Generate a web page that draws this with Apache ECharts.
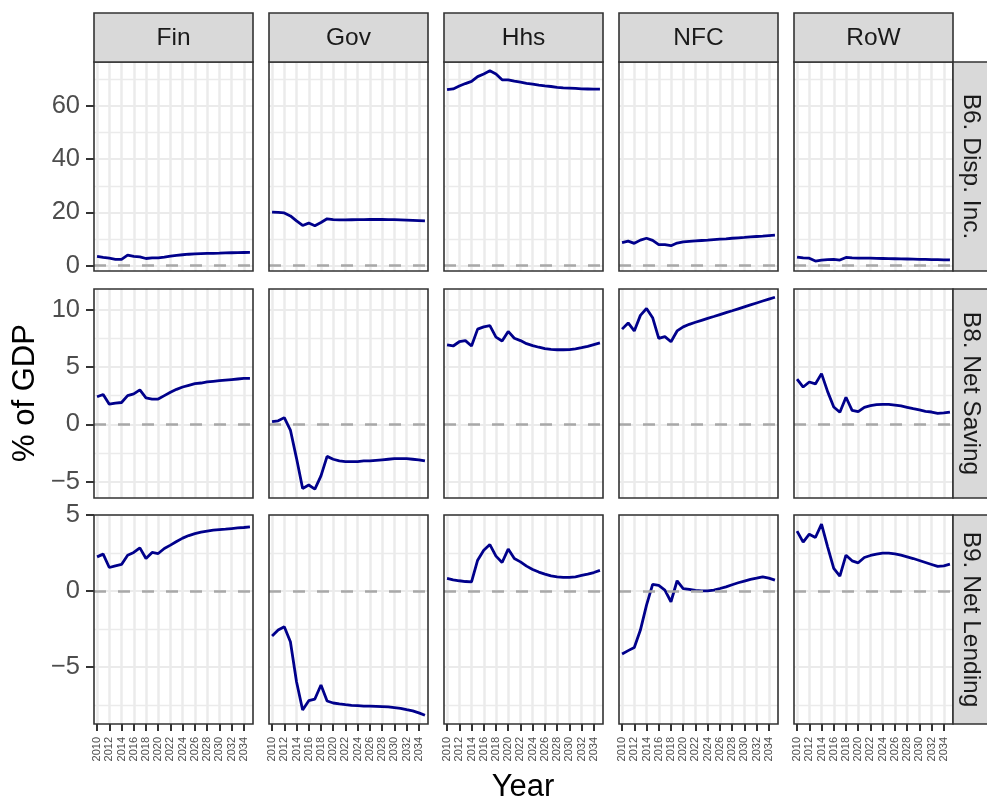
<!DOCTYPE html>
<html>
<head>
<meta charset="utf-8">
<script src="https://cdn.jsdelivr.net/npm/echarts@6/dist/echarts.min.js"></script>
<style>
  html, body { margin: 0; padding: 0; background: #fff; }
  #chart { width: 987px; height: 801px; }
</style>
</head>
<body>
<div id="chart"></div>
<script>
// años y etiquetas
const years = [2010, 2011, 2012, 2013, 2014, 2015, 2016, 2017, 2018, 2019, 2020, 2021, 2022,
  2023, 2024, 2025, 2026, 2027, 2028, 2029, 2030, 2031, 2032, 2033, 2034, 2035];
const xTicks = [2010, 2012, 2014, 2016, 2018, 2020, 2022, 2024, 2026, 2028, 2030, 2032, 2034];
const sectors = ['Fin', 'Gov', 'Hhs', 'NFC', 'RoW'];
const measures = ['B6. Disp. Inc.', 'B8. Net Saving', 'B9. Net Lending'];

// B6. Disp. Inc.
const finDisp = [3.5, 3.1, 2.8, 2.4, 2.4, 4.0, 3.5, 3.3, 2.7, 2.9, 2.9, 3.2, 3.6, 3.9, 4.1, 4.3, 4.4, 4.5, 4.6, 4.65, 4.7, 4.8, 4.85, 4.9, 4.95, 5.0];
const govDisp = [20.1, 20.0, 19.8, 18.7, 16.8, 15.1, 16.0, 15.0, 16.2, 17.6, 17.3, 17.2, 17.2, 17.25, 17.3, 17.3, 17.35, 17.35, 17.35, 17.3, 17.3, 17.2, 17.1, 17.0, 16.9, 16.8];
const hhsDisp = [66.1, 66.4, 67.5, 68.4, 69.2, 71.0, 72.0, 73.2, 72.0, 69.8, 69.8, 69.3, 68.9, 68.5, 68.2, 67.8, 67.5, 67.3, 67.0, 66.8, 66.7, 66.6, 66.4, 66.35, 66.3, 66.3];
const nfcDisp = [8.7, 9.2, 8.4, 9.6, 10.3, 9.5, 7.9, 7.9, 7.5, 8.5, 8.9, 9.1, 9.3, 9.45, 9.6, 9.8, 9.95, 10.1, 10.3, 10.45, 10.6, 10.8, 10.95, 11.1, 11.3, 11.45];
const rowDisp = [3.25, 2.9, 2.8, 1.75, 2.1, 2.25, 2.4, 2.1, 3.1, 2.9, 2.85, 2.8, 2.8, 2.75, 2.7, 2.65, 2.6, 2.55, 2.5, 2.45, 2.4, 2.35, 2.3, 2.25, 2.2, 2.15];

// B8. Net Saving
const finSav = [2.4, 2.6, 1.75, 1.85, 1.9, 2.5, 2.65, 3.0, 2.3, 2.2, 2.2, 2.5, 2.8, 3.05, 3.25, 3.4, 3.55, 3.6, 3.7, 3.75, 3.8, 3.85, 3.9, 3.95, 4.0, 4.0];
const govSav = [0.23, 0.3, 0.58, -0.5, -2.97, -5.6, -5.3, -5.65, -4.5, -2.8, -3.05, -3.2, -3.25, -3.25, -3.25, -3.2, -3.2, -3.15, -3.1, -3.05, -3.0, -3.0, -3.0, -3.05, -3.1, -3.2];
const hhsSav = [6.92, 6.83, 7.2, 7.3, 6.83, 8.3, 8.5, 8.6, 7.6, 7.27, 8.1, 7.5, 7.3, 7.03, 6.86, 6.72, 6.6, 6.54, 6.5, 6.5, 6.52, 6.57, 6.68, 6.8, 6.95, 7.1];
const nfcSav = [8.3, 8.84, 8.14, 9.5, 10.1, 9.3, 7.5, 7.65, 7.2, 8.14, 8.5, 8.72, 8.9, 9.07, 9.24, 9.4, 9.57, 9.74, 9.9, 10.07, 10.24, 10.41, 10.58, 10.75, 10.92, 11.08];
const rowSav = [3.93, 3.25, 3.69, 3.52, 4.42, 2.85, 1.51, 1.05, 2.36, 1.22, 1.1, 1.48, 1.62, 1.71, 1.74, 1.74, 1.68, 1.6, 1.48, 1.36, 1.25, 1.13, 1.07, 0.96, 0.99, 1.07];

// B9. Net Lending
const finLend = [2.25, 2.43, 1.55, 1.66, 1.75, 2.36, 2.54, 2.84, 2.14, 2.54, 2.47, 2.8, 3.02, 3.26, 3.48, 3.65, 3.78, 3.87, 3.94, 4.0, 4.04, 4.07, 4.11, 4.15, 4.18, 4.22];
const govLend = [-2.95, -2.56, -2.34, -3.33, -5.95, -7.81, -7.2, -7.09, -6.17, -7.22, -7.35, -7.41, -7.46, -7.5, -7.52, -7.55, -7.56, -7.57, -7.59, -7.61, -7.65, -7.7, -7.79, -7.87, -8.0, -8.16];
const hhsLend = [0.83, 0.74, 0.68, 0.63, 0.61, 2.03, 2.69, 3.06, 2.3, 1.88, 2.76, 2.14, 1.92, 1.64, 1.42, 1.25, 1.12, 1.0, 0.94, 0.9, 0.9, 0.94, 1.03, 1.12, 1.22, 1.36];
const nfcLend = [-4.13, -3.91, -3.7, -2.56, -0.92, 0.44, 0.37, 0.07, -0.7, 0.68, 0.17, 0.11, 0.04, 0.02, 0.02, 0.07, 0.17, 0.28, 0.42, 0.55, 0.66, 0.77, 0.85, 0.94, 0.85, 0.72];
const rowLend = [3.94, 3.22, 3.74, 3.52, 4.4, 2.91, 1.49, 0.98, 2.36, 1.99, 1.86, 2.21, 2.34, 2.43, 2.49, 2.49, 2.45, 2.36, 2.25, 2.14, 2.01, 1.88, 1.75, 1.62, 1.66, 1.77];

// marcas del eje y por fila
const yMajor = [[0, 20, 40, 60], [-5, 0, 5, 10], [-5, 0, 5]];
const yMinor = [[10, 30, 50, 70], [-2.5, 2.5, 7.5], [-7.5, -2.5, 2.5]];
const yRange = [[-2, 76.5], [-6.43, 11.8], [-8.73, 5.0]];

const panels = [
  [finDisp, govDisp, hhsDisp, nfcDisp, rowDisp],
  [finSav, govSav, hhsSav, nfcSav, rowSav],
  [finLend, govLend, hhsLend, nfcLend, rowLend]
];

const FONT = '"Liberation Sans", Arial, Helvetica, sans-serif';
const colLeft = [94, 269, 444, 619, 794];
const rowTop = [62, 289, 515];
const panelW = 159;
const panelH = 209;

const fmt = v => (v < 0 ? '\u2212' + Math.abs(v) : String(v));

const buildOption = () => {
  const grid = [], xAxis = [], yAxis = [], series = [], graphic = [];

  panels.forEach((row, r) => {
    row.forEach((vals, c) => {
      const g = grid.length;
      grid.push({
        left: colLeft[c], top: rowTop[r], width: panelW, height: panelH,
        show: true, backgroundColor: '#fff', borderWidth: 0
      });
      xAxis.push({
        type: 'value', gridIndex: g, min: 2009.5, max: 2035.5, position: 'bottom',
        axisLine: { show: false, onZero: false },
        axisTick: { show: r === 2, customValues: xTicks, length: 7, lineStyle: { color: '#333', width: 2 } },
        axisLabel: {
          show: r === 2, customValues: xTicks, rotate: 90, fontSize: 11, color: '#4D4D4D',
          fontFamily: FONT, margin: 13, formatter: v => String(v)
        },
        splitLine: { show: true, lineStyle: { color: '#EBEBEB', width: 2.5 } }
      });
      // eje principal (etiquetas + rejilla mayor)
      yAxis.push({
        type: 'value', gridIndex: g, min: yRange[r][0], max: yRange[r][1], position: 'left',
        axisLine: { show: false, onZero: false },
        axisTick: { show: c === 0, customValues: yMajor[r], length: 8, lineStyle: { color: '#333', width: 2 } },
        axisLabel: {
          show: c === 0, customValues: yMajor[r], fontSize: 25.5, color: '#4D4D4D',
          fontFamily: FONT, margin: 14, formatter: fmt
        },
        splitLine: { show: true, lineStyle: { color: '#EBEBEB', width: 2 } }
      });
      // rejilla menor
      yAxis.push({
        type: 'value', gridIndex: g, min: yRange[r][0], max: yRange[r][1], position: 'left',
        axisLine: { show: false, onZero: false },
        axisTick: { show: false, customValues: yMinor[r] },
        axisLabel: { show: false },
        splitLine: { show: true, lineStyle: { color: '#EBEBEB', width: 1.3 } }
      });
      series.push({
        type: 'line', xAxisIndex: g, yAxisIndex: 2 * g,
        data: years.map((y, i) => [y, vals[i]]),
        showSymbol: false, symbol: 'none', silent: true,
        lineStyle: { color: '#00008B', width: 2.8 },
        markLine: {
          silent: true, symbol: 'none', label: { show: false },
          lineStyle: { color: '#A8A8A8', width: 2.5, type: [12, 12] },
          data: [{ yAxis: 0 }]
        }
      });
      // borde del panel (encima de la rejilla)
      graphic.push({
        type: 'rect', z: 100, silent: true,
        shape: { x: colLeft[c], y: rowTop[r], width: panelW, height: panelH },
        style: { fill: null, stroke: '#333', lineWidth: 1.6 }
      });
    });
  });

  // tiras superiores
  sectors.forEach((s, c) => {
    graphic.push({
      type: 'rect', z: 100, shape: { x: colLeft[c], y: 13, width: panelW, height: 49 },
      style: { fill: '#D9D9D9', stroke: '#333', lineWidth: 1.6 }, silent: true
    });
    graphic.push({
      type: 'text', z: 101, x: colLeft[c] + panelW / 2, y: 38,
      style: { text: s, font: '24.5px ' + FONT, fill: '#1A1A1A', align: 'center', verticalAlign: 'middle' },
      silent: true
    });
  });
  // tiras derechas
  measures.forEach((m, r) => {
    graphic.push({
      type: 'rect', z: 100, shape: { x: 953, y: rowTop[r], width: 40, height: panelH },
      style: { fill: '#D9D9D9', stroke: '#333', lineWidth: 1.6 }, silent: true
    });
    graphic.push({
      type: 'text', z: 101, x: 971, y: rowTop[r] + panelH / 2, rotation: -Math.PI / 2,
      style: { text: m, font: '24.5px ' + FONT, fill: '#1A1A1A', align: 'center', verticalAlign: 'middle' },
      silent: true
    });
  });
  // títulos de ejes
  graphic.push({
    type: 'text', x: 25, y: 393, rotation: Math.PI / 2,
    style: { text: '% of GDP', font: '31px ' + FONT, fill: '#000', align: 'center', verticalAlign: 'middle' },
    silent: true
  });
  graphic.push({
    type: 'text', x: 523, y: 787,
    style: { text: 'Year', font: '31px ' + FONT, fill: '#000', align: 'center', verticalAlign: 'middle' },
    silent: true
  });

  return { animation: false, backgroundColor: '#fff', grid, xAxis, yAxis, series, graphic };
};

const initCharts = () => {
  const chart = echarts.init(document.getElementById('chart'), null, { renderer: 'canvas' });
  chart.setOption(buildOption());
};

window.addEventListener('load', () => {
  initCharts();
});
</script>
</body>
</html>
